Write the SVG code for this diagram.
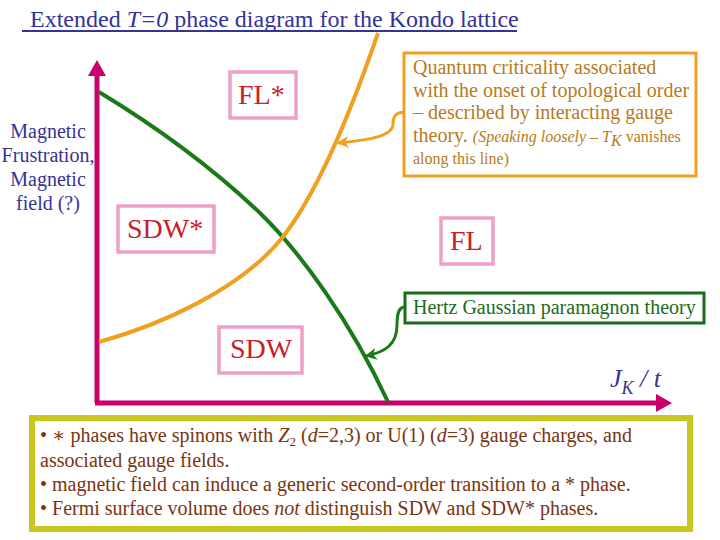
<svg xmlns="http://www.w3.org/2000/svg" width="720" height="540" viewBox="0 0 720 540" font-family="'Liberation Serif', 'DejaVu Serif', 'Times New Roman', Times, serif">
<style>
text{font-family:'Liberation Serif','DejaVu Serif','Times New Roman',Times,serif}
.title{font-size:24px;fill:#333399}
.ylab{font-size:20px;fill:#333399;text-anchor:middle}
.phase{font-size:28px;fill:#c8202a}
.pbox{fill:#fff;stroke:#f0a0c8;stroke-width:3.5}
.axis{stroke:#c8006a;stroke-width:5;fill:none}
.qc{font-size:20px;fill:#b87a20}
.qcs{font-size:16px;fill:#b87a20}
.hz{font-size:20px;fill:#1a6b1a}
.note{font-size:20px;fill:#7a3410}
</style>
<defs>
<marker id="oa" viewBox="0 0 10 10" refX="9" refY="5" markerWidth="4" markerHeight="4" orient="auto"><path d="M0,0 L10,5 L0,10 L3,5 Z" fill="#f0a020"/></marker>
<marker id="ga" viewBox="0 0 10 10" refX="9" refY="5" markerWidth="4" markerHeight="4" orient="auto"><path d="M0,0 L10,5 L0,10 L3,5 Z" fill="#1a7a1a"/></marker>
</defs>

<g id="title">
<text class="title" x="30" y="27" xml:space="preserve">Extended <tspan font-style="italic">T=0</tspan> phase diagram for the Kondo lattice</text>
<line x1="22" y1="31" x2="517" y2="31" stroke="#333399" stroke-width="2"/>
</g>

<g id="axes">
<line class="axis" x1="97" y1="403" x2="97" y2="72"/>
<path d="M88,76 L97,60 L106,76 Z" fill="#c8006a"/>
<line class="axis" x1="95" y1="403" x2="658" y2="403"/>
<path d="M656,394 L672,403 L656,412 Z" fill="#c8006a"/>
</g>

<g id="ylabel">
<text class="ylab" x="48" y="138">Magnetic</text>
<text class="ylab" x="48" y="162">Frustration,</text>
<text class="ylab" x="48" y="186">Magnetic</text>
<text class="ylab" x="48" y="210">field (?)</text>
</g>

<g id="xlabel">
<text x="610" y="387" font-size="26" font-style="italic" fill="#333399">J<tspan font-size="18" dy="7">K</tspan><tspan dy="-7" font-size="26"> / t</tspan></text>
</g>

<g id="connectors">
<path d="M99,92 C170,135 220,175 260,213 C300,252 350,320 388,402" fill="none" stroke="#1a7a1a" stroke-width="4"/>
<path d="M99,342 C160,325 240,290 282,238 C320,190 355,100 378,33" fill="none" stroke="#f0a020" stroke-width="4"/>
<path d="M406,112 C396,112 393,116 393,124 C393,136 370,140 338,143" fill="none" stroke="#f0a020" stroke-width="3" marker-end="url(#oa)"/>
<path d="M404,307 C398,308 397,315 397,325 C397,345 385,352 366,356" fill="none" stroke="#1a7a1a" stroke-width="3" marker-end="url(#ga)"/>
</g>

<g id="FLstar">
<rect class="pbox" x="230" y="72" width="66" height="46"/>
<text class="phase" x="238" y="104">FL*</text>
</g>
<g id="SDWstar">
<rect class="pbox" x="118" y="206" width="96" height="46"/>
<text class="phase" x="127" y="238">SDW*</text>
</g>
<g id="FL">
<rect class="pbox" x="441" y="218" width="52" height="46"/>
<text class="phase" x="450" y="250">FL</text>
</g>
<g id="SDW">
<rect class="pbox" x="219" y="327" width="83" height="46"/>
<text class="phase" x="230" y="358">SDW</text>
</g>

<g id="qcbox">
<rect x="404" y="53" width="292" height="123" fill="#fff" stroke="#f0a020" stroke-width="3"/>
<text class="qc" x="413" y="74">Quantum criticality associated</text>
<text class="qc" x="413" y="97">with the onset of topological order</text>
<text class="qc" x="413" y="119">– described by interacting gauge</text>
<text class="qc" x="413" y="142">theory. <tspan class="qcs" font-style="italic">(Speaking loosely – T</tspan><tspan class="qcs" font-style="italic" font-size="12" dy="4">K</tspan><tspan class="qcs" dy="-4"> vanishes</tspan></text>
<text class="qcs" x="413" y="164">along this line)</text>
</g>

<g id="hertz">
<rect x="405" y="293" width="299" height="30" fill="#fff" stroke="#1a6b1a" stroke-width="3"/>
<text class="hz" x="413" y="314">Hertz Gaussian paramagnon theory</text>
</g>

<g id="notes">
<rect x="32" y="418" width="658" height="111" fill="#fff" stroke="#c8c820" stroke-width="6"/>
<text class="note" x="40" y="442">• ∗ phases have spinons with <tspan font-style="italic">Z</tspan><tspan font-size="13" dy="4">2</tspan><tspan dy="-4"> (</tspan><tspan font-style="italic">d</tspan>=2,3) or U(1) (<tspan font-style="italic">d</tspan>=3) gauge charges, and</text>
<text class="note" x="40" y="467">associated gauge fields.</text>
<text class="note" x="40" y="491">• magnetic field can induce a generic second-order transition to a * phase.</text>
<text class="note" x="40" y="515">• Fermi surface volume does <tspan font-style="italic">not</tspan> distinguish SDW and SDW* phases.</text>
</g>
</svg>
